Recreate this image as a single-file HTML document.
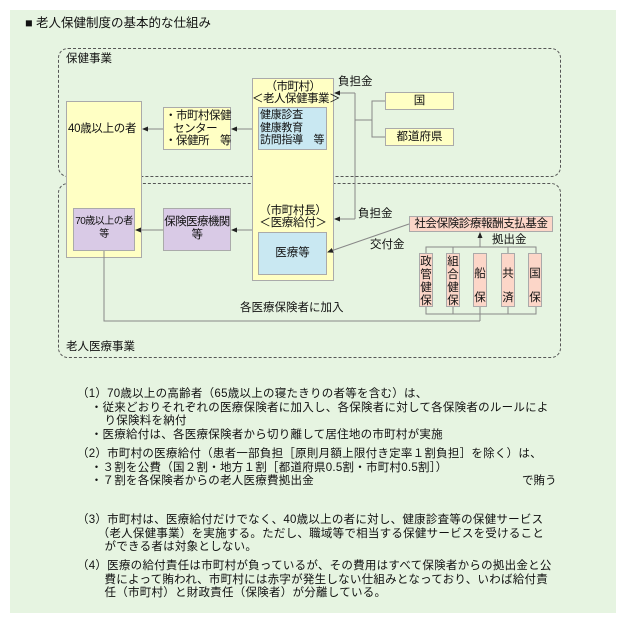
<!DOCTYPE html>
<html><head><meta charset="utf-8">
<style>
*{margin:0;padding:0;box-sizing:border-box}
body{width:627px;height:624px;background:#fff;position:relative;overflow:hidden;font-family:"Liberation Sans","Noto Sans CJK JP",sans-serif;color:#111}
.a{position:absolute}
.bg{left:10px;top:10px;width:606px;height:603px;background:#e6f4e1}
.dash{border:1px dashed #555;border-radius:10px}
.box{position:absolute;border:1px solid #aaa;font-size:11.5px;line-height:12.5px;white-space:nowrap}
.y{background:#ffffc4}
.b{background:#c9e8f2}
.p{background:#d9cae6}
.o{background:#fcd6c8}
.t{position:absolute;font-size:11.5px;line-height:12px;white-space:nowrap}
.v{text-align:center;font-size:11.5px;line-height:13px}
.txt{position:absolute;left:77px;font-size:11.5px;line-height:13.5px;white-space:nowrap;letter-spacing:0.25px}
</style></head><body>
<div class="a bg"></div>
<div class="t" style="left:25px;top:17px;font-size:12.5px">■ 老人保健制度の基本的な仕組み</div>
<div class="a dash" style="left:58px;top:48px;width:503px;height:129px"></div>
<div class="a dash" style="left:58px;top:183px;width:503px;height:175px"></div>
<div class="t" style="left:66px;top:53px">保健事業</div>
<div class="t" style="left:66px;top:341px">老人医療事業</div>

<div class="box y" style="left:66px;top:101px;width:76px;height:157px"></div>
<div class="t" style="left:68px;top:123px;letter-spacing:-0.3px">40歳以上の者</div>
<div class="box y" style="left:163px;top:107px;width:68px;height:43px;padding:2px 0 0 1px;letter-spacing:-0.5px">・市町村保健<br>&nbsp;&nbsp;&nbsp;センター<br>・保健所　等</div>
<div class="box y" style="left:252px;top:78px;width:82px;height:203px"></div>
<div class="t" style="left:252px;top:81px;width:82px;text-align:center;line-height:12px;letter-spacing:-0.5px">（市町村）<br>＜老人保健事業＞</div>
<div class="box b" style="left:258px;top:107px;width:69px;height:43px;padding:1px 0 0 1px;font-size:11px;letter-spacing:-0.3px">健康診査<br>健康教育<br>訪問指導　等</div>
<div class="t" style="left:252px;top:205px;width:82px;text-align:center;line-height:12px;letter-spacing:-0.3px">（市町村長）<br>＜医療給付＞</div>
<div class="box b" style="left:258px;top:232px;width:69px;height:43px;text-align:center;line-height:41px">医療等</div>

<div class="box y" style="left:385px;top:92px;width:69px;height:18px;text-align:center;line-height:16px">国</div>
<div class="box y" style="left:385px;top:128px;width:69px;height:18px;text-align:center;line-height:16px">都道府県</div>
<div class="t" style="left:338px;top:76px">負担金</div>
<div class="t" style="left:358px;top:208px">負担金</div>

<div class="box p" style="left:73px;top:208px;width:62px;height:43px;text-align:center;padding-top:7px;font-size:10px;letter-spacing:-0.5px">70歳以上の者<br>等</div>
<div class="box p" style="left:163px;top:208px;width:68px;height:43px;text-align:center;padding-top:7px;letter-spacing:-0.6px">保険医療機関<br>等</div>

<div class="box o" style="left:409px;top:216px;width:144px;height:16px;text-align:center;line-height:14px;letter-spacing:-0.4px">社会保険診療報酬支払基金</div>
<div class="t" style="left:370px;top:239px">交付金</div>
<div class="t" style="left:492px;top:234px">拠出金</div>
<div class="box o v" style="left:419px;top:253px;width:14px;height:54px;padding-top:2px">政<br>管<br>健<br>保</div>
<div class="box o v" style="left:446px;top:253px;width:14px;height:54px;padding-top:2px">組<br>合<br>健<br>保</div>
<div class="box o v" style="left:473px;top:253px;width:14px;height:54px;padding-top:8px;line-height:24px">船<br>保</div>
<div class="box o v" style="left:501px;top:253px;width:14px;height:54px;padding-top:8px;line-height:24px">共<br>済</div>
<div class="box o v" style="left:528px;top:253px;width:14px;height:54px;padding-top:8px;line-height:24px">国<br>保</div>
<div class="t" style="left:240px;top:302px">各医療保険者に加入</div>

<svg class="a" style="left:0;top:0" width="627" height="624">
<defs><marker id="ar" markerWidth="6" markerHeight="6" refX="5" refY="3" orient="auto" markerUnits="userSpaceOnUse"><path d="M0,0.5 L6,3 L0,5.5z" fill="#222"/></marker></defs>
<g stroke="#888" stroke-width="1" fill="none">
<line x1="252" y1="129" x2="232" y2="129" marker-end="url(#ar)"/>
<line x1="163" y1="129" x2="143" y2="129" marker-end="url(#ar)"/>
<line x1="252" y1="230" x2="232" y2="230" marker-end="url(#ar)"/>
<line x1="163" y1="230" x2="136" y2="230" marker-end="url(#ar)"/>
<polyline points="355,93 355,219"/>
<line x1="355" y1="93" x2="335" y2="93" marker-end="url(#ar)"/>
<line x1="355" y1="219" x2="335" y2="219" marker-end="url(#ar)"/>
<line x1="355" y1="120" x2="372" y2="120"/>
<polyline points="385,101 372,101 372,137 385,137"/>
<line x1="409" y1="224" x2="328" y2="252" marker-end="url(#ar)"/>
<polyline points="426,253 426,247 536,247 536,253"/>
<line x1="453" y1="247" x2="453" y2="253"/>
<line x1="508" y1="247" x2="508" y2="253"/>
<line x1="480" y1="247" x2="480" y2="233" marker-end="url(#ar)"/>
<polyline points="426,307 426,314 536,314 536,307"/>
<line x1="453" y1="307" x2="453" y2="314"/>
<line x1="480" y1="307" x2="480" y2="321"/>
<line x1="508" y1="307" x2="508" y2="314"/>
<polyline points="104,251 104,321 480,321"/>
</g>
</svg>

<div class="txt" style="top:388px">（1）70歳以上の高齢者（65歳以上の寝たきりの者等を含む）は、<br>&nbsp;&nbsp;&nbsp;&nbsp;・従来どおりそれぞれの医療保険者に加入し、各保険者に対して各保険者のルールによ<br>&nbsp;&nbsp;&nbsp;&nbsp;&nbsp;&nbsp;&nbsp;&nbsp;り保険料を納付<br>&nbsp;&nbsp;&nbsp;&nbsp;・医療給付は、各医療保険者から切り離して居住地の市町村が実施</div>
<div class="txt" style="top:448px">（2）市町村の医療給付（患者一部負担［原則月額上限付き定率１割負担］を除く）は、<br>&nbsp;&nbsp;&nbsp;&nbsp;・３割を公費（国２割・地方１割［都道府県0.5割・市町村0.5割］）<br>&nbsp;&nbsp;&nbsp;&nbsp;・７割を各保険者からの老人医療費拠出金</div>
<div class="t" style="left:522px;top:475px">で賄う</div>
<div class="txt" style="top:514px">（3）市町村は、医療給付だけでなく、40歳以上の者に対し、健康診査等の保健サービス<br>&nbsp;&nbsp;&nbsp;&nbsp;&nbsp;&nbsp;（老人保健事業）を実施する。ただし、職域等で相当する保健サービスを受けること<br>&nbsp;&nbsp;&nbsp;&nbsp;&nbsp;&nbsp;&nbsp;&nbsp;ができる者は対象としない。</div>
<div class="txt" style="top:560px">（4）医療の給付責任は市町村が負っているが、その費用はすべて保険者からの拠出金と公<br>&nbsp;&nbsp;&nbsp;&nbsp;&nbsp;&nbsp;&nbsp;&nbsp;費によって賄われ、市町村には赤字が発生しない仕組みとなっており、いわば給付責<br>&nbsp;&nbsp;&nbsp;&nbsp;&nbsp;&nbsp;&nbsp;&nbsp;任（市町村）と財政責任（保険者）が分離している。</div>
</body></html>
